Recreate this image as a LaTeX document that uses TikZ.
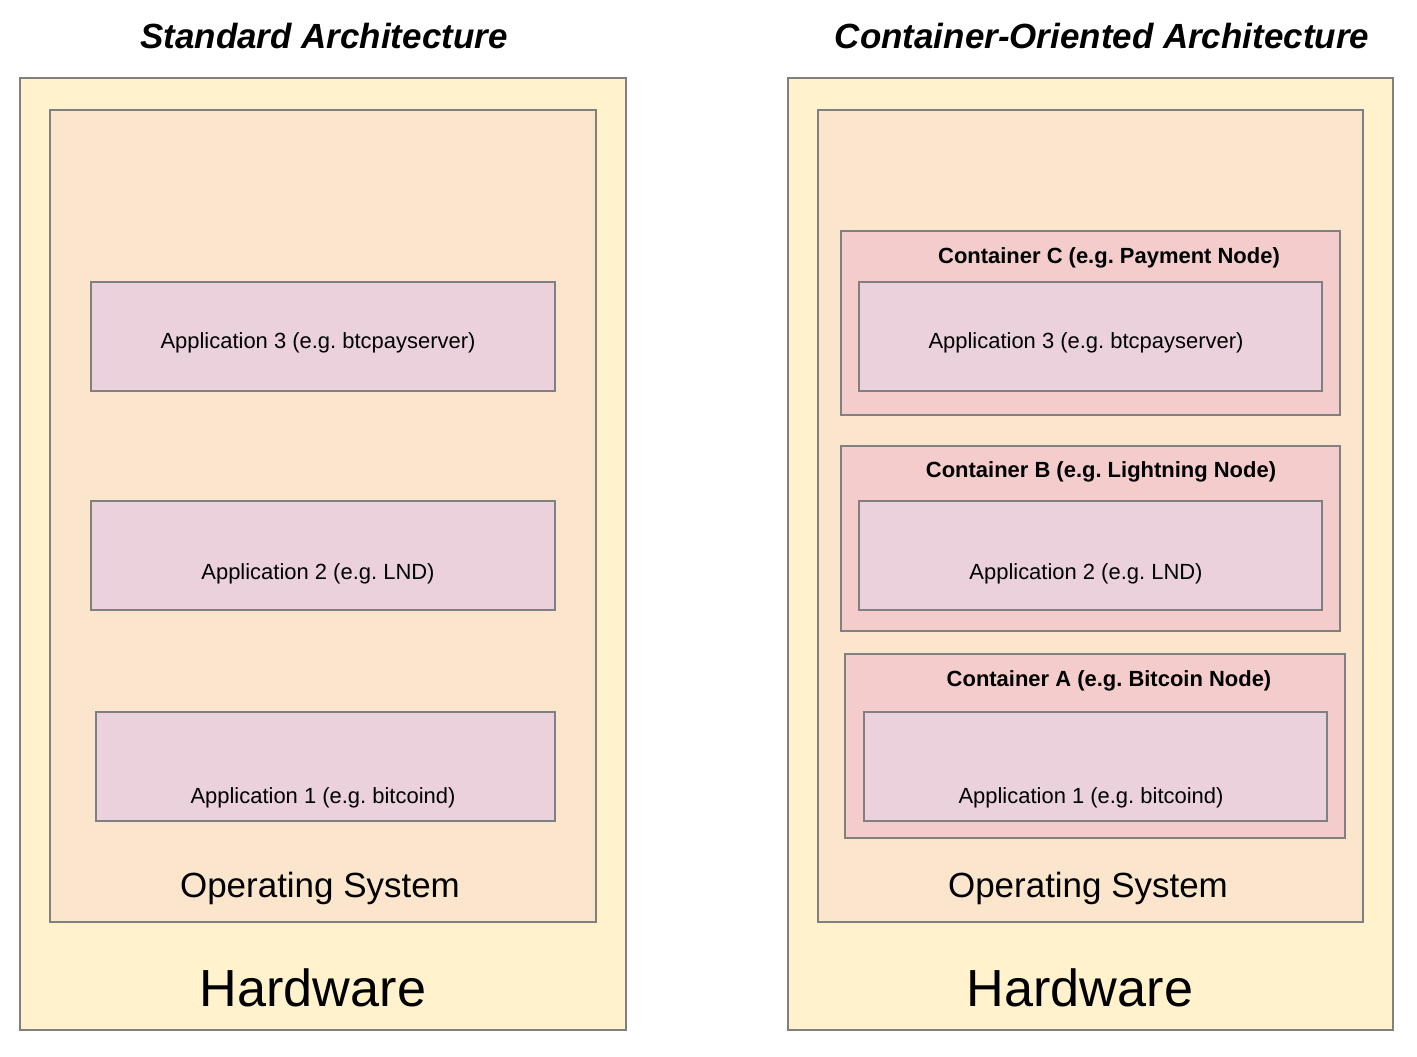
\documentclass[tikz,border=0pt]{standalone}
\usepackage{fontspec}
\setmainfont{Liberation Sans}
\usepackage{xcolor}
\definecolor{hwfill}{HTML}{FFF2CC}
\definecolor{osfill}{HTML}{FCE5CD}
\definecolor{appfill}{HTML}{EAD1DC}
\definecolor{ctfill}{HTML}{F4CCCC}
\definecolor{edge}{HTML}{808080}
\frenchspacing
\begin{document}
\begin{tikzpicture}[
    x=0.02cm, y=-0.02cm,
    layer/.style={draw=edge, line width=0.6pt},
    hw/.style={layer, fill=hwfill},
    os/.style={layer, fill=osfill},
    app/.style={layer, fill=appfill},
    ctr/.style={layer, fill=ctfill},
    title/.style={font=\fontsize{19.9}{24}\selectfont\bfseries\itshape},
    applabel/.style={font=\fontsize{12.5}{15}\selectfont},
    ctrlabel/.style={font=\fontsize{12.5}{15}\selectfont\bfseries},
    oslabel/.style={font=\fontsize{19.9}{24}\selectfont},
    hwlabel/.style={font=\fontsize{29.7}{36}\selectfont}
]
    \useasboundingbox (0,0) rectangle (1417,1056);

    % Titles
    \node[title] (t1) at (324,36) {Standard Architecture};
    \node[title] (t2) at (1102,36) {Container-Oriented Architecture};

    % Standard architecture
    \draw[hw] (20,78) rectangle (626,1030);
    \draw[os] (50,110) rectangle (596,922);
    \draw[app] (91,282) rectangle (555,391);
    \draw[app] (91,501) rectangle (555,610);
    \draw[app] (96,712) rectangle (555,821);
    \node[applabel] (a3) at (318,343) {Application 3 (e.g. btcpayserver)};
    \node[applabel] (a2) at (318,574) {Application 2 (e.g. LND)};
    \node[applabel] (a1) at (323,798) {Application 1 (e.g. bitcoind)};
    \node[oslabel] (os1) at (320,888) {Operating System};
    \node[hwlabel] (hw1) at (313,988) {Hardware};

    % Container-oriented architecture
    \draw[hw] (788,78) rectangle (1393,1030);
    \draw[os] (818,110) rectangle (1363,922);
    \draw[ctr] (841,231) rectangle (1340,415);
    \draw[ctr] (841,446) rectangle (1340,631);
    \draw[ctr] (845,654) rectangle (1345,838);
    \draw[app] (859,282) rectangle (1322,391);
    \draw[app] (859,501) rectangle (1322,610);
    \draw[app] (864,712) rectangle (1327,821);
    \node[ctrlabel] (cc) at (1109,258) {Container C (e.g. Payment Node)};
    \node[ctrlabel] (cb) at (1101,472) {Container B (e.g. Lightning Node)};
    \node[ctrlabel] (ca) at (1109,681) {Container A (e.g. Bitcoin Node)};
    \node[applabel] (b3) at (1086,343) {Application 3 (e.g. btcpayserver)};
    \node[applabel] (b2) at (1086,574) {Application 2 (e.g. LND)};
    \node[applabel] (b1) at (1091,798) {Application 1 (e.g. bitcoind)};
    \node[oslabel] (os2) at (1088,888) {Operating System};
    \node[hwlabel] (hw2) at (1080,988) {Hardware};
\end{tikzpicture}
\end{document}
